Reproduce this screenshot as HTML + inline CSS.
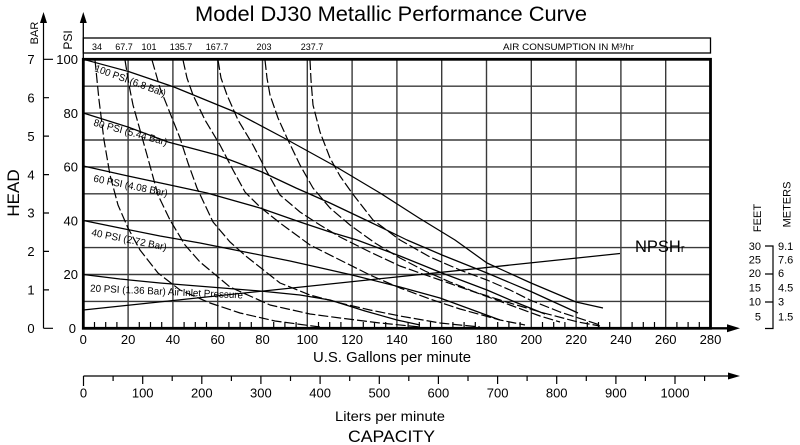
<!DOCTYPE html>
<html>
<head>
<meta charset="utf-8">
<style>
html,body{margin:0;padding:0;background:#fff;}
svg{display:block;}
text{font-family:"Liberation Sans",Arial,sans-serif;fill:#000;}
</style>
</head>
<body>
<svg width="800" height="445" viewBox="0 0 800 445" xmlns="http://www.w3.org/2000/svg">
<rect width="800" height="445" fill="#fff"/>

<!-- Title -->
<text x="391" y="21" font-size="21" text-anchor="middle" textLength="392" lengthAdjust="spacingAndGlyphs">Model DJ30 Metallic Performance Curve</text>

<!-- Grid -->
<path fill="none" stroke="#3a3a3a" stroke-width="1.4" d="
M128.1 59.3V328.3 M172.9 59.3V328.3 M217.7 59.3V328.3 M262.5 59.3V328.3 M307.3 59.3V328.3
M352.1 59.3V328.3 M396.9 59.3V328.3 M441.7 59.3V328.3 M486.5 59.3V328.3 M531.3 59.3V328.3
M576.1 59.3V328.3 M620.9 59.3V328.3 M665.7 59.3V328.3
M83.3 301.4H710.5 M83.3 274.5H710.5 M83.3 247.6H710.5 M83.3 220.7H710.5 M83.3 193.8H710.5
M83.3 166.9H710.5 M83.3 140H710.5 M83.3 113.1H710.5 M83.3 86.2H710.5"/>

<!-- minor ticks on bottom axis -->
<path fill="none" stroke="#000" stroke-width="1.2" d="
M94.5 328V322 M105.7 328V322 M116.9 328V322 M139.3 328V322 M150.5 328V322 M161.7 328V322
M184.1 328V322 M195.3 328V322 M206.5 328V322 M228.9 328V322 M240.1 328V322 M251.3 328V322
M273.7 328V322 M284.9 328V322 M296.1 328V322 M318.5 328V322 M329.7 328V322 M340.9 328V322
M363.3 328V322 M374.5 328V322 M385.7 328V322 M408.1 328V322 M419.3 328V322 M430.5 328V322
M452.9 328V322 M464.1 328V322 M475.3 328V322 M497.7 328V322 M508.9 328V322 M520.1 328V322
M542.5 328V322 M553.7 328V322 M564.9 328V322 M587.3 328V322 M598.5 328V322 M609.7 328V322
M632.1 328V322 M643.3 328V322 M654.5 328V322 M676.9 328V322 M688.1 328V322 M699.3 328V322"/>

<!-- Plot border -->
<rect x="83.3" y="59.3" width="627.2" height="269" fill="none" stroke="#000" stroke-width="2.8"/>
<!-- bottom axis extension + arrow -->
<line x1="710" y1="328.3" x2="730" y2="328.3" stroke="#000" stroke-width="2.4"/>
<polygon points="727,324.3 740,328.3 727,332.3" fill="#000"/>

<!-- PSI axis extension -->
<line x1="83.3" y1="59" x2="83.3" y2="20" stroke="#000" stroke-width="1.3"/>
<polygon points="79.8,23 83.3,12 86.8,23" fill="#000"/>
<!-- BAR axis -->
<line x1="43.5" y1="328.3" x2="43.5" y2="20" stroke="#000" stroke-width="1.2"/>
<polygon points="40,23 43.5,12 47,23" fill="#000"/>
<path fill="none" stroke="#000" stroke-width="1.2" d="M43.5 59.3H53 M43.5 97.7H49 M43.5 136.1H49 M43.5 174.6H49 M43.5 213H49 M43.5 251.4H49 M43.5 289.9H49 M43.5 328.3H53"/>

<!-- Air consumption box -->
<rect x="83.3" y="38" width="627.2" height="15" fill="none" stroke="#000" stroke-width="1.3"/>
<g font-size="9" text-anchor="middle">
<text x="97" y="50">34</text>
<text x="124" y="50">67.7</text>
<text x="149" y="50">101</text>
<text x="181" y="50">135.7</text>
<text x="217" y="50">167.7</text>
<text x="264" y="50">203</text>
<text x="312" y="50">237.7</text>
</g>
<text x="568.5" y="50" font-size="9.5" text-anchor="middle" textLength="131" lengthAdjust="spacingAndGlyphs">AIR CONSUMPTION IN M³/hr</text>

<!-- Axis unit labels -->
<text transform="translate(38,33) rotate(-90)" font-size="11" text-anchor="middle">BAR</text>
<text transform="translate(72,40) rotate(-90)" font-size="12" text-anchor="middle">PSI</text>
<text transform="translate(19,193) rotate(-90)" font-size="17" text-anchor="middle">HEAD</text>

<!-- BAR labels -->
<g font-size="13" text-anchor="middle">
<text x="31" y="64">7</text>
<text x="31" y="102.4">6</text>
<text x="31" y="140.8">5</text>
<text x="31" y="179.3">4</text>
<text x="31" y="217.7">3</text>
<text x="31" y="256">2</text>
<text x="31" y="294.5">1</text>
<text x="31" y="333">0</text>
</g>
<!-- PSI labels -->
<g font-size="13" text-anchor="end">
<text x="78" y="64">100</text>
<text x="78" y="117.8">80</text>
<text x="78" y="171.6">60</text>
<text x="78" y="225.4">40</text>
<text x="78" y="279.2">20</text>
<text x="76" y="333">0</text>
</g>

<!-- GPM labels -->
<g font-size="13" text-anchor="middle">
<text x="83.3" y="344">0</text>
<text x="128.1" y="344">20</text>
<text x="172.9" y="344">40</text>
<text x="217.7" y="344">60</text>
<text x="262.5" y="344">80</text>
<text x="307.3" y="344">100</text>
<text x="352.1" y="344">120</text>
<text x="396.9" y="344">140</text>
<text x="441.7" y="344">160</text>
<text x="486.5" y="344">180</text>
<text x="531.3" y="344">200</text>
<text x="576.1" y="344">220</text>
<text x="620.9" y="344">240</text>
<text x="665.7" y="344">260</text>
<text x="710.5" y="344">280</text>
</g>
<text x="392" y="362" font-size="15" text-anchor="middle" textLength="158" lengthAdjust="spacingAndGlyphs">U.S. Gallons per minute</text>

<!-- Liters axis -->
<line x1="83.5" y1="376" x2="730" y2="376" stroke="#000" stroke-width="1.3"/>
<polygon points="728,372.5 740,376 728,379.5" fill="#000"/>
<path fill="none" stroke="#000" stroke-width="1.2" d="
M83.5 376V386 M142.7 376V384 M201.8 376V384 M260.9 376V384 M320.1 376V384 M379.3 376V384
M438.4 376V384 M497.6 376V384 M556.7 376V384 M615.9 376V384 M675 376V384
M113.1 376V381 M172.2 376V381 M231.4 376V381 M290.5 376V381 M349.7 376V381 M408.8 376V381
M468 376V381 M527.1 376V381 M586.3 376V381 M645.4 376V381 M704.6 376V381"/>
<g font-size="13" text-anchor="middle">
<text x="83.5" y="397.5">0</text>
<text x="142.7" y="397.5">100</text>
<text x="201.8" y="397.5">200</text>
<text x="260.9" y="397.5">300</text>
<text x="320.1" y="397.5">400</text>
<text x="379.3" y="397.5">500</text>
<text x="438.4" y="397.5">600</text>
<text x="497.6" y="397.5">700</text>
<text x="556.7" y="397.5">800</text>
<text x="615.9" y="397.5">900</text>
<text x="675" y="397.5">1000</text>
</g>
<text x="390" y="421" font-size="14" text-anchor="middle" textLength="110" lengthAdjust="spacingAndGlyphs">Liters per minute</text>
<text x="391.5" y="442" font-size="17" text-anchor="middle" textLength="87" lengthAdjust="spacingAndGlyphs">CAPACITY</text>

<!-- Right FEET / METERS scale -->
<text transform="translate(761,218) rotate(-90)" font-size="11" text-anchor="middle">FEET</text>
<text transform="translate(790.5,204.5) rotate(-90)" font-size="11" text-anchor="middle">METERS</text>
<g font-size="11" text-anchor="end">
<text x="761" y="250">30</text>
<text x="761" y="263.3">25</text>
<text x="761" y="277">20</text>
<text x="761" y="291.7">15</text>
<text x="761" y="305.7">10</text>
<text x="761" y="320.7">5</text>
</g>
<g font-size="11" text-anchor="start">
<text x="778" y="250">9.1</text>
<text x="778" y="263.3">7.6</text>
<text x="778" y="277">6</text>
<text x="778" y="291.7">4.5</text>
<text x="778" y="305.7">3</text>
<text x="778" y="320.7">1.5</text>
</g>
<path fill="none" stroke="#000" stroke-width="1.2" d="M765 246H773V328.5H765 M765 274H773 M765 302H773"/>

<!-- Solid pump curves -->
<g fill="none" stroke="#000" stroke-width="1.25" stroke-linejoin="round">
<polyline points="83.3,59.3 128.1,71.4 174,87 235,112 284,138 333,165 380,193 419,218 455,240 487,263 531,283 576,302 603,308"/>
<polyline points="83.3,113 128,127 168,142 217,155 262,172 296,188 330,203 370,222 407,240 442,255 487,273 532,292 578,313"/>
<polyline points="83.3,166 128,176 170,185 207,193 260,208 300,222 330,232 357,240 400,256 442,273 487,290 515,302 545,314"/>
<polyline points="83.3,220.5 120,228 160,236 200,243 240,251 290,261 330,270 352,275 400,287 440,298 470,309 500,320"/>
<polyline points="83.3,274.5 120,279 160,283 210,287 260,291 300,295 330,300 365,311 397,320 420,325"/>
<!-- NPSHr line -->
<line x1="83.3" y1="310" x2="620" y2="253.5"/>
</g>

<!-- Dashed air consumption curves -->
<g fill="none" stroke="#000" stroke-width="1.2" stroke-dasharray="10,3" stroke-linejoin="round">
<polyline points="95,60 99,100 104,140 110,175 118,205 128,228 140,250 158,273 180,290 210,303 240,313 275,321 320,327"/>
<polyline points="125,60 129,85 133,105 140,130 147,155 158,195 170,220 185,245 200,262 230,287 270,305 310,314 340,318 380,323 420,327"/>
<polyline points="152,60 160,88 170,113 180,138 188,163 197,188 213,222 230,242 247,257 280,283 310,295 340,303 370,310 400,316 440,323 480,327"/>
<polyline points="183,60 187,78 193,95 205,120 220,145 233,170 245,192 260,207 280,223 310,245 340,260 370,275 400,288 430,299 460,309 500,320 525,325"/>
<polyline points="218,60 221,78 227,95 238,120 253,145 266,170 280,195 300,212 320,225 340,237 370,252 400,266 440,280 480,294 510,305 540,316 560,322"/>
<polyline points="265,60 267,78 270,95 278,118 287,138 300,165 313,188 330,208 350,225 375,243 400,258 425,271 450,282 475,292 500,300 540,312 578,322 600,326"/>
<polyline points="310,60 311,80 313,105 320,132 330,158 340,176 352,193 373,220 400,240 430,257 460,270 487,280 510,290 530,300 560,312 600,325"/>
</g>

<!-- Curve labels -->
<text transform="translate(94,71) rotate(20)" font-size="10" textLength="75" lengthAdjust="spacingAndGlyphs">100 PSI (6.8 Bar)</text>
<text transform="translate(93,125.5) rotate(15.3)" font-size="10" textLength="76" lengthAdjust="spacingAndGlyphs">80 PSI (5.44 Bar)</text>
<text transform="translate(93,181.5) rotate(11.5)" font-size="10" textLength="75.5" lengthAdjust="spacingAndGlyphs">60 PSI (4.08 Bar)</text>
<text transform="translate(91,235.5) rotate(11.3)" font-size="10" textLength="76.5" lengthAdjust="spacingAndGlyphs">40 PSI (2.72 Bar)</text>
<text transform="translate(90,291.5) rotate(2.6)" font-size="10" textLength="153" lengthAdjust="spacingAndGlyphs">20 PSI (1.36 Bar) Air Inlet Pressure</text>

<!-- NPSHr label -->
<text x="635" y="252" font-size="16.5">NPSH<tspan font-size="11">r</tspan></text>
</svg>
</body>
</html>
